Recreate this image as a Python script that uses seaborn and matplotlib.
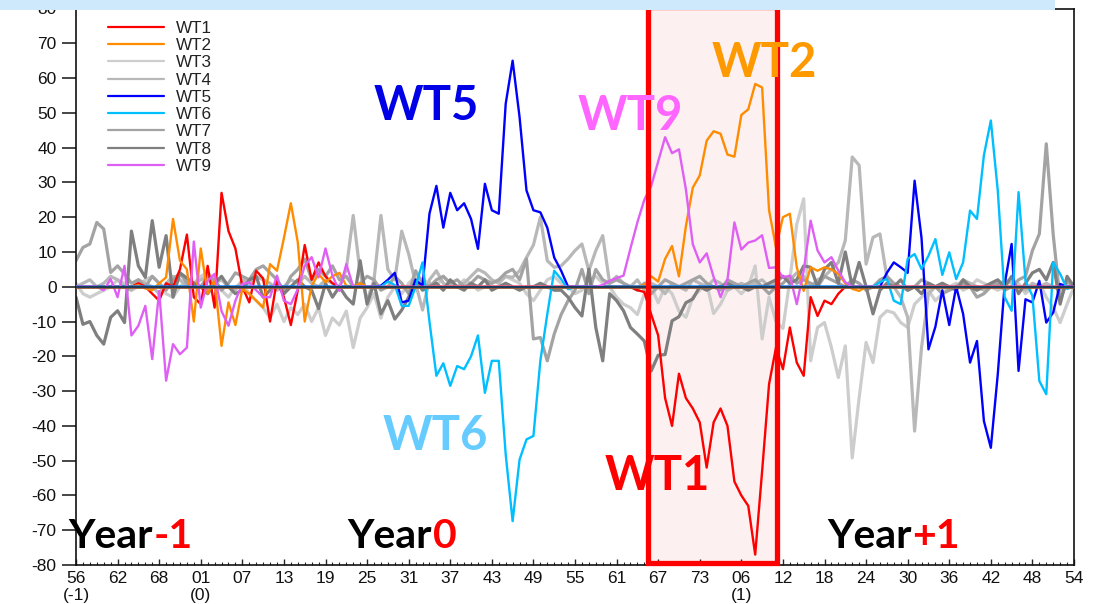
import numpy as np
import pandas as pd
import matplotlib
matplotlib.use("Agg")
import matplotlib.pyplot as plt
from matplotlib.patches import Rectangle
import seaborn as sns

# Pentad index: pentad 56 of year -1 through pentad 54 of year +1 (145 pentads)
pentad = np.arange(145)

wt1 = [0, 0, 0, 0, 0, 0, 0, 0, 0, 1,
       0, -2, -4, 1, 0, 5, 15, -3, -5, 6,
       -6, 27, 16, 11, 0, -4.5, 4.6, 2.4, -10, 2,
       -3, -11, -1, 12, 2, 7, 3, 1, 0, 0,
       0, 0, 0, 0, 0, 0, 0, 0, 0, 0,
       0, 0, 0, 0, 0, 0, 0, 0, 0, 0,
       0, 0, 0, 0, 0, 0, 0, 0, 0, 0,
       0, 0, 0, 0, 0, 0, 0, 0, 0, 0,
       0, -1, -1.5, -8, -14, -32, -40, -25, -32, -35,
       -39, -52, -39, -35, -40, -56, -60, -63, -77, -53,
       -28, -17.5, -23.7, -11.7, -21.8, -25.6, -3, -8.4, -4, -5,
       -2, 0, 0, 0, 0, 0, 0, 0, 0, 0,
       0, 0, 0, 0, 0, 0, 0, 0, 0, 0,
       0, 0, 0, 0, 0, 0, 0, 0, 0, 0,
       0, 0, 0, 0, 0]

wt2 = [0, 0, 0, 0, 0, 0, 0, 0, 0, 0.5,
       -0.5, -1, 1, 2.7, 19.5, 7.5, 5, -10, 11, -2,
       2, -17, -4.5, -11, -0.6, -2, -4, -6, 6.5, 4.6,
       14, 24, 12.8, -10, 0.3, 3.7, 1.3, 3, 4, 0.3,
       0, 1, 0, 0, 0, 0, 0, 0, 0, 0,
       0, 0, 0, 0, 0, 0, 0, 0, 0, 0,
       0, 0, 0, 0, 0, 0, 0, 0, 0, 0,
       0, 0, 0, 0, 0, 0, 0, 0, 0, 0,
       0, 0, 0.5, 3, 1.5, 8, 11.7, 3, 17.4, 28.5,
       32, 42, 44.7, 44, 38, 37.4, 49.4, 51, 58.3, 57.3,
       22, 11.3, 20, 21, 5.6, -1.2, 5.6, 4.6, 5.6, 5,
       3.7, 1, -0.6, -1.2, 0, 0, 0, 0, 0, 0,
       0, 0, 0, 0, 0, 0, 0, 0, 0, 0,
       0, 0, 0, 0, 0, 0, 0, 0, 0, 0,
       0, 0, 0, 0, 0]

wt3 = [1, -2, -3, -2, -1, 0, 2, 1, -1, 0,
       2, 3, 1, -2, -3, 0, 2, 1, 3, 4,
       2, -1, -3, 0, 1, -2, -4, -6, -9, -5,
       -10, -6, -8, -5, -10, -6, -14, -9, -11, -7,
       -17.5, -9, -6, -2, -9, -3, 0, -2, 1, 3,
       2, 1, 0, 3, 1, 0, 2, 1, -1, 0,
       1, 2, 3, 2, 1, -2, -4, -1, 2, 3,
       1, 0, -2, -1, 2, 3, 1, 0, -3, -5,
       -6, -8, -2, 0, -4.6, 0, -2, -7, -8.8, -3,
       -1, 1, -7.7, -5, -1, 0, -2, 0, 6, -15,
       -3, -10, -12, 2, 18, 25.3, -21.3, -11.7, -10.3, -17.5,
       -26.1, -17, -49.2, -31.9, -16, -21.8, -8.8, -6.9, -7.5, -10.3,
       -11.7, -5, -3, -1, -4, -2, 0, 1, -1, 0,
       2, 1, 0, -1, 0, 2, 1, -2, 0, 1,
       -3, -6, -10.3, -5, 0]

wt4 = [0, 1, 2, 0, 1, 3, 2, 0, -1, 2,
       1, 0, -2, 1, 3, 2, 0, 1, 2, 3,
       1, 2, 0, -1, 2, 1, 3, 2, 1, -1,
       0, 2, 1, 3, 1, 0, 2, 1, 0, 5,
       20.5, 4, -4, 2, 20.5, 5, 2, 16, 9.4, 1,
       -6.7, 2, 4.6, 1, 0, 0, 1, 3, 5, 4,
       2, 1, 3, 2.7, 4.6, 8.4, 12, 20, 7.5, 5.6,
       6, 8, 10.4, 12.3, 4.6, 10.4, 14.7, 1, 3, 1,
       0, 2, -1, 1, 0, -2, 1, 0, -1, 2,
       1, 0, 2, 1, -1, 0, 1, 0, 1, 2,
       0, 1, 3, 2, 4, 3, 0, 2, 3, 5,
       7, 13.3, 37.3, 34.9, 6.5, 14.2, 15.2, 2.7, 0, -3,
       -8.8, -41.5, -17.5, -2, 0, 1, -1, 0, 2, 1,
       0, -1, 1, 0, 2, 1, 0, -1, 1, 0,
       1, 0, -1, 0, 0]

wt5 = [0, 0, 0, 0, 0, 0, 0, 0, 0, 0,
       0, 0, 0, 0, 0, 0, 0, 0, 0, 0,
       0, 0, 0, 0, 0, 0, 0, 0, 0, 0,
       0, 0, 0, 0, 0, 0, 0, 0, 0, 0,
       0, 0, 0, 0, 0.3, 2, 4, -4.5, -4, 2,
       0.3, 21, 29, 17, 27, 22, 24, 19.5, 10.9, 29.6,
       22, 21, 52.6, 65, 48.8, 27.7, 22, 21.4, 17, 8.4,
       4.6, 0, 0, 0, 0, 0, 0, 0, 0, 0,
       0, 0, 0, 0, 0, 0, 0, 0, 0, 0,
       0, 0, 0, 0, 0, 0, 0, 0, 0, 0,
       0, 0, 0, 0, 0, 0, 0, 0, 0, 0,
       0, 0, 0, 0, 0, 0, 0, 4, 7, 5.6,
       4, 30.5, 14, -18, -11.5, -1, -11, 0, -7.8, -21.8,
       -15.6, -38.6, -46.3, -25.2, 0.8, 12.3, -24.2, -3.6, -4.5, 1.7,
       -10.3, -7.4, 0.8, 0, 0]

wt6 = [0, 0, 0, 0, 0, 0, 0, 0, 0, 0,
       0, 0, 0, 0, 0, 0, 0, 0, 0, 0,
       0, 0, 0, 0, 0, 0, 0, 0, 0, 0,
       0, 0, 0, 0, 0, 0, 0, 0, 0, 0,
       0, 0, 0, 0, 0, 1.5, 0.5, -5.5, -5.5, 0,
       7, -10, -25.6, -22, -28.5, -22.8, -23.7, -20, -14, -30.5,
       -21.3, -21.3, -48.2, -67.4, -49.7, -43.9, -42.9, -21.3, -7.9, 4.6,
       2.2, -0.7, 0, 0, 0, 0, 0, 0, 0, 0,
       0, 0, 0, 0, 0, 0, 0, 0, 0, 0,
       0, 0, 0, 0, 0, 0, 0, 0, 0, 0,
       0, 0, 0, 0, 0, 0, 0, 0, 0, 0,
       0, 0, 0, 0, 0, 0, 1.3, 2.3, -4, -5,
       8, 9.4, 5.1, 8.9, 13.7, 3.4, 9.9, 2.2, 7, 21.9,
       19.5, 37.8, 47.8, 27.7, -3, -6.9, 27.2, 1.7, -2.6, -27.1,
       -30.9, 7, 3.7, -0.6, 0]

wt7 = [7.5, 11.3, 12.3, 18.5, 16.6, 4.1, 6, 3.7, 1, 2,
       0, 3, 1, -1, 2, 4, 1, 0, 0, 3,
       2, -1, 1, 4, 3, 2, 5, 6, 4, 2,
       -1, 3, 5, 8, 2, 5, 3, 6, 2, 3,
       0, 1, 3, 2, -1, 0, 3, 1, -2, 4.6,
       1, 0, 2, 3, 1, 2, 0, 1, 3, 2,
       1, 2, 4, 5, 2, 8, -15, -14.6, -21.3, -13.6,
       -8, -4, -1, 5, -2, 5, 2, 1, 2, 1,
       0, -1, 1, -2, 0, 2, 1, 0, 1, 2,
       3, 1, 0, -1, 2, 1, 0, 1, 2, 0,
       -2, 0, 1, 3, 1, 2, 1, 0, 3, 2,
       1, 0, 2, 1, -1, 0, 2, 3, 1, 0,
       -1, 0, 2, 1, 0, -2, -1, 0, 1, 0,
       -3, -2, 0, 1, -1, 0, 2, 3, 10.4, 15.2,
       41.1, 15, -4, 1.5, 0]

wt8 = [-3, -10.8, -10, -14, -16.5, -8.8, -6.9, -10.3, 16, 6,
       2.7, 19, 5.6, 14.7, -3, 4, 2.5, 1, 0, -2,
       1, 3, 0, -2, -1, 2, 3, -3, -1, 1,
       -2, 0, 2, 0, -1, -6.3, 1, -3, 0, -3,
       -5, 7.5, -5, 1, -7.8, -4, -9.3, -6.7, -3, 2,
       -1, 0, 1, -1, 2, 0, -1, 1, 0, 2,
       -1, 0, 1, 0, -1, 0, 0, 1, 0, -1,
       -1, -3, -6, -8.4, 5.1, -11.7, -21.3, -2, -4, -6.9,
       -11.7, -13.6, -15.6, -24.2, -19.7, -19.5, -9.8, -8.6, -4.6, -3.5,
       0, -1, 0, 0, 1, 0, 0, -1, 0, 0,
       1, 2, 3, 1, 2, 6, 5.6, 0, 5, 7,
       1, 10, 0, 7, 0, -7.8, -1, 1, 0, 2,
       -1, 0, -2, 1, 0, 1, 0, -1, 2, 0,
       -1, 0, 1, 2, 0, 3, -2, 1, 4, 5,
       2, 7, -5, 3, 0]

wt9 = [0, 0, 0, 0, -1, 2.2, -3, 6, -14, -11.2,
       -5.5, -20.8, -1.2, -27, -16.5, -19.4, -17.5, 13, -6, 1.7,
       3.7, -7, -11.2, -4, 0.8, 1.3, -1, -3, -3, 3.2,
       -4, -5, -0.7, 6, 8.5, 2.7, 11, 3.2, -1.2, 6.5,
       0, 0, 0, 0, 0, 0, 0, 0, 0, 0,
       0, 0, 0, 0, 0, 0, 0, 0, 0, 0,
       0, 0, 0, 0, 0, 0, 0, 0, 0, 0,
       0, 0, 0, 0, 0, 0, 0.5, 1.7, 2.5, 3.2,
       11, 18.5, 25, 29, 36, 43, 38.4, 39.5, 28, 12.2,
       7, 9.6, 2.8, -3, 2, 18.5, 10.7, 12.7, 13.3, 14.8,
       5.4, 5.6, 2.7, 3.2, -5, 4.6, 19, 10.4, 7, 8.5,
       4.6, 1.3, 0, 0, 0, 0, 0, 0, 0, 0,
       0, 0, 0, 0, 0, 0, 0, 0, 0, 0,
       0, 0, 0, 0, 0, 0, 0, 0, 0, 0,
       0, 0, 0, 0, 0]

wt_names = ["WT1", "WT2", "WT3", "WT4", "WT5", "WT6", "WT7", "WT8", "WT9"]
wt_series = [wt1, wt2, wt3, wt4, wt5, wt6, wt7, wt8, wt9]

tick_pos = [0, 6, 12, 18, 24, 30, 36, 42, 48, 54, 60, 66, 72, 78, 84, 90,
            96, 102, 108, 114, 120, 126, 132, 138, 144]
tick_labels = ["56\n(-1)", "62", "68", "01\n(0)", "07", "13", "19", "25", "31",
               "37", "43", "49", "55", "61", "67", "73", "06\n(1)", "12", "18",
               "24", "30", "36", "42", "48", "54"]
ytick_vals = list(range(-80, 81, 10))

for s in wt_series:
    assert len(s) == len(pentad)

line_colors = {"WT1": "#ff0000", "WT2": "#ff8c00", "WT3": "#cdcdcd",
               "WT4": "#b8b8b8", "WT5": "#0000ff", "WT6": "#00bfff",
               "WT7": "#a3a3a3", "WT8": "#7f7f7f", "WT9": "#df5ff5"}
line_widths = {"WT1": 1.7, "WT2": 1.7, "WT3": 2.3, "WT4": 2.3, "WT5": 1.7,
               "WT6": 1.7, "WT7": 2.3, "WT8": 2.3, "WT9": 1.7}

df = pd.DataFrame({"pentad": pentad, **dict(zip(wt_names, wt_series))})
long = df.melt(id_vars="pentad", var_name="wt", value_name="value")

sns.set_theme(style="ticks")
plt.rcParams["font.family"] = ["Liberation Sans", "DejaVu Sans"]
plt.rcParams["axes.linewidth"] = 1.2

W, H = 1101, 604
fig = plt.figure(figsize=(W / 100, H / 100), dpi=100)
ax = fig.add_axes([76 / W, 1 - 565 / H, (1074 - 76) / W, (565 - 8.5) / H])


def fx(x):
    return x / W


def fy(y):
    return 1 - y / H


# shaded box behind the lines
ax.add_patch(Rectangle((82.6, -79.3), 18.5, 159.6, facecolor="#fcf0f0",
                       edgecolor="none", zorder=0.5, clip_on=False))

# grey types underneath, coloured types on top
draw_order = ["WT3", "WT4", "WT7", "WT8", "WT1", "WT2", "WT5", "WT6", "WT9"]
for k, name in enumerate(draw_order):
    sub = long[long["wt"] == name]
    sns.lineplot(data=sub, x="pentad", y="value", ax=ax, color=line_colors[name],
                 linewidth=line_widths[name], label=name, legend=False,
                 zorder=2 + k * 0.1)

# zero reference line
ax.axhline(0, color="#9a5a30", lw=2.0, zorder=3.5)
ax.axhline(0, color="#1a3a5c", lw=1.4, zorder=3.6)

# box outline
ax.add_patch(Rectangle((82.6, -79.3), 18.5, 159.6, facecolor="none",
                       edgecolor="#ff0000", lw=3.8, zorder=6, clip_on=False))

ax.set_xlim(0, 144)
ax.set_ylim(-80, 80)
ax.set_xlabel("")
ax.set_ylabel("")
ax.set_xticks(tick_pos)
ax.set_xticklabels(tick_labels)
ax.set_xticks(pentad, minor=True)
ax.set_yticks(ytick_vals)
ax.set_yticklabels([str(v) for v in ytick_vals])
for lab in ax.get_xticklabels() + ax.get_yticklabels():
    lab.set_fontsize(12.5)
    lab.set_color("#111111")
ax.tick_params(axis="y", direction="out", length=10, width=1.2, pad=4)
ax.tick_params(axis="x", which="major", direction="in", length=4, width=1.0, pad=4)
ax.tick_params(axis="x", which="minor", direction="in", length=2.5, width=0.8)
for sp in ax.spines.values():
    sp.set_color("#111111")
    sp.set_linewidth(1.2)

# legend in WT order
handles, labels = ax.get_legend_handles_labels()
lookup = dict(zip(labels, handles))
leg = ax.legend([lookup[n] for n in wt_names], wt_names, loc="upper left",
                bbox_to_anchor=(fx(108), fy(21)), bbox_transform=fig.transFigure,
                frameon=False, fontsize=12.3, handlelength=3.3, handletextpad=0.7,
                labelspacing=0.13, borderpad=0, borderaxespad=0)
for ln in leg.get_lines():
    ln.set_linewidth(1.6)
for t in leg.get_texts():
    t.set_color("#222222")

# type labels
big = dict(fontsize=34, fontweight="bold", family=["Lato", "DejaVu Sans"],
           va="baseline", ha="center", zorder=8)
fig.text(fx(426), fy(120), "WT5", color="#0000e6", **big)
fig.text(fx(630), fy(130), "WT9", color="#ff66ff", **big)
fig.text(fx(764), fy(77), "WT2", color="#ff9900", **big)
fig.text(fx(435), fy(450), "WT6", color="#66ccff", **big)
fig.text(fx(657), fy(490), "WT1", color="#ff0000", **big)

# year labels: black word, red offset
renderer = fig.canvas.get_renderer()
year_style = dict(fontsize=29.5, fontweight="bold", family=["Lato", "DejaVu Sans"],
                  va="baseline", ha="left", zorder=8)
for x0, suffix in [(68, "-1"), (347, "0"), (827, "+1")]:
    t = fig.text(fx(x0), fy(548), "Year", color="#000000", **year_style)
    bb = t.get_window_extent(renderer)
    fig.text(bb.x1 / W + 1 / W, fy(548), suffix, color="#ff0000", **year_style)

# header strip across the top
fig.patches.append(Rectangle((0, fy(9.5)), 1055 / W, 9.5 / H,
                             transform=fig.transFigure, facecolor="#cde9fb",
                             edgecolor="none", zorder=10))

fig.savefig("out.png", dpi=100)
